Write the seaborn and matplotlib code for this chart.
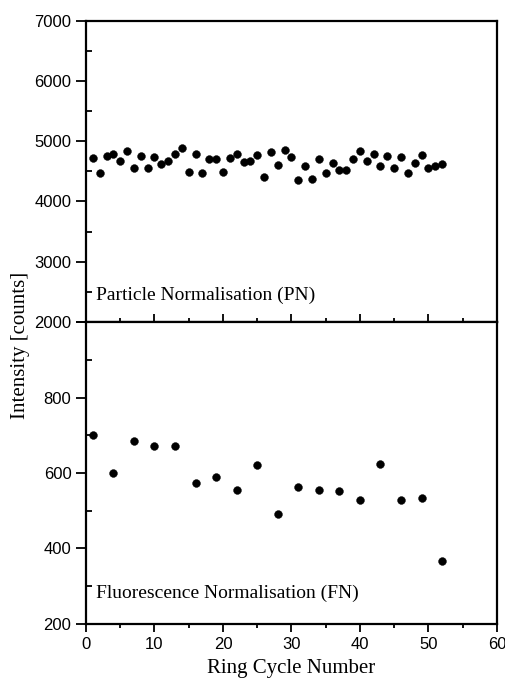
import numpy as np
import pandas as pd
import matplotlib.pyplot as plt
import seaborn as sns
from matplotlib.ticker import MultipleLocator

# 데이터
pn_cycle = list(range(1, 53))
pn_intensity = [4724, 4475, 4752, 4786, 4664, 4836, 4553, 4752, 4558, 4741,
                4615, 4664, 4781, 4885, 4487, 4781, 4470, 4703, 4708, 4482,
                4719, 4786, 4653, 4669, 4769, 4404, 4824, 4603, 4852, 4731,
                4359, 4586, 4365, 4703, 4475, 4631, 4520, 4520, 4698, 4841,
                4664, 4786, 4586, 4752, 4553, 4731, 4465, 4641, 4769, 4548,
                4591, 4615]
fn_cycle = [1, 4, 7, 10, 13, 16, 19, 22, 25, 28, 31, 34, 37, 40, 43, 46, 49, 52]
fn_intensity = [700, 599, 686, 671, 671, 574, 589, 556, 621, 492,
                563, 555, 552, 528, 623, 528, 534, 367]

sns.set_style('ticks')
plt.rcParams['font.family'] = ['Liberation Sans', 'DejaVu Sans']
plt.rcParams['axes.edgecolor'] = 'black'
plt.rcParams['xtick.color'] = 'black'
plt.rcParams['ytick.color'] = 'black'
plt.rcParams['text.color'] = 'black'
plt.rcParams['axes.labelcolor'] = 'black'
serif = ['Liberation Serif', 'DejaVu Serif']

df_pn = pd.DataFrame({'cycle': pn_cycle, 'intensity': pn_intensity})
df_fn = pd.DataFrame({'cycle': fn_cycle, 'intensity': fn_intensity})

fig = plt.figure(figsize=(5.06, 6.86), dpi=100)
ax1 = fig.add_axes([0.170, 0.5306, 0.812, 0.4394])
ax2 = fig.add_axes([0.170, 0.0904, 0.812, 0.4402])

for ax, df in [(ax1, df_pn), (ax2, df_fn)]:
    sns.scatterplot(data=df, x='cycle', y='intensity', ax=ax, color='black',
                    s=32, edgecolor='black', linewidth=0.3, legend=False)
    ax.set_xlim(0, 60)
    ax.xaxis.set_major_locator(MultipleLocator(10))
    ax.xaxis.set_minor_locator(MultipleLocator(5))
    for sp in ax.spines.values():
        sp.set_linewidth(1.6)
        sp.set_color('black')
        sp.set_visible(True)
    ax.set_xlabel('')
    ax.set_ylabel('')
    ax.tick_params(axis='y', which='major', direction='out', length=7, width=1.3,
                   labelsize=12, colors='black')
    ax.tick_params(axis='y', which='minor', direction='in', length=4, width=1.3)

# 위 패널 (PN)
ax1.set_ylim(2000, 7000)
ax1.yaxis.set_major_locator(MultipleLocator(1000))
ax1.yaxis.set_minor_locator(MultipleLocator(500))
ax1.tick_params(axis='x', which='major', direction='in', length=6, width=1.3,
                labelbottom=False)
ax1.tick_params(axis='x', which='minor', direction='in', length=3, width=1.3)
ax1.text(0.024, 0.073, 'Particle Normalisation (PN)', transform=ax1.transAxes,
         fontsize=14, family=serif, va='baseline')

# 아래 패널 (FN)
ax2.set_ylim(200, 1000)
ax2.set_yticks([200, 400, 600, 800, 1000])
ax2.set_yticklabels(['200', '400', '600', '800', ''])
ax2.yaxis.set_minor_locator(MultipleLocator(100))
ax2.tick_params(axis='x', which='major', direction='out', length=6, width=1.3,
                labelsize=12, colors='black')
ax2.tick_params(axis='x', which='minor', direction='out', length=3, width=1.3)
ax2.text(0.024, 0.086, 'Fluorescence Normalisation (FN)', transform=ax2.transAxes,
         fontsize=14, family=serif, va='baseline')
ax2.set_xlabel('Ring Cycle Number', fontsize=15, family=serif, labelpad=5)

fig.text(0.040, 0.496, 'Intensity [counts]', rotation=90, ha='center', va='center',
         fontsize=15, family=serif)

plt.savefig('out.png', dpi=100)
